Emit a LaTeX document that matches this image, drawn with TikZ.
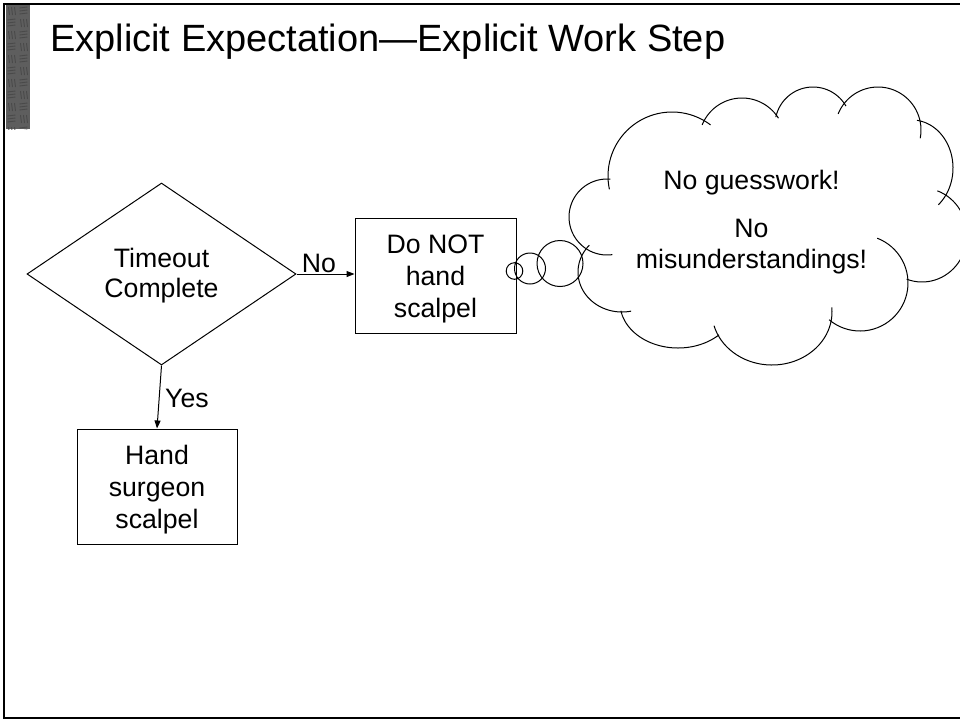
\documentclass[tikz,border=0pt]{standalone}
\usepackage{fontspec}
\setmainfont{Liberation Sans}
\usetikzlibrary{shapes.geometric,arrows.meta}
\definecolor{bandgray}{HTML}{5E5E5E}
\definecolor{banddark}{HTML}{4A4A4A}
\newcommand{\cloudbump}[6]{\draw[cloudline] plot[domain=#5:#6, samples=40, smooth, variable=\t] ({#1+#3*cos(\t)},{#2+#4*sin(\t)});}
\begin{document}
\begin{tikzpicture}[x=1pt,y=-1pt,
  body/.style={font=\fontsize{26.67}{32}\selectfont, align=center},
  flowbox/.style={draw=black, line width=1pt, rectangle, minimum width=161pt, minimum height=115pt, inner sep=0pt, body},
  decision/.style={draw=black, line width=1pt, diamond, minimum width=269pt, minimum height=182pt, inner sep=0pt, font=\fontsize{26.67}{30}\selectfont, align=center},
  conn/.style={draw=black, line width=1pt, -{Triangle[length=8pt,width=6pt]}},
  lbl/.style={font=\fontsize{26.67}{32}\selectfont, inner sep=0pt, anchor=base},
  cloudline/.style={draw=black, line width=1pt},
  bubble/.style={draw=black, line width=1pt},
]
\useasboundingbox (0,0) rectangle (960,721);
\fill[white] (0,0) rectangle (960,721);
% textured band
\fill[bandgray] (5.5,5) rectangle (30,129);
\begin{scope}
\clip (5.5,5) rectangle (30,129);
\foreach \i in {0,1,2}{
  \foreach \j in {0,...,10}{
    \pgfmathtruncatemacro{\pp}{mod(\i+\j,2)}
    \ifnum\pp=0
      \draw[banddark, line width=0.9pt] ({5.5+12*\i+3},{5+12*\j+2}) -- ++(1,8) ({5.5+12*\i+6},{5+12*\j+2}) -- ++(1,8) ({5.5+12*\i+9},{5+12*\j+2}) -- ++(1,8);
    \else
      \draw[banddark, line width=0.9pt] ({5.5+12*\i+2},{5+12*\j+3}) -- ++(8,-1) ({5.5+12*\i+2},{5+12*\j+6}) -- ++(8,-1) ({5.5+12*\i+2},{5+12*\j+9}) -- ++(8,-1);
    \fi
  }
}
\end{scope}
% frame
\draw[line width=2.2pt] (965,4) -- (4,4) -- (4,718) -- (965,718);
% title
\node[anchor=base west, inner sep=0pt, font=\fontsize{38}{45}\selectfont] (title) at (50,51) {Explicit Expectation—Explicit Work Step};
% flowchart
\node[decision] (dec) at (161.5,274) {\rule{0pt}{23pt}Timeout\\Complete};
\node[flowbox] (nobox) at (435.5,275.5) {\rule{0pt}{26pt}Do NOT\\hand\\scalpel};
\node[flowbox, minimum width=160pt] (yesbox) at (157,486.5) {\rule{0pt}{26pt}Hand\\surgeon\\scalpel};
\draw[conn] (dec.east) -- (dec.east -| nobox.west);
\draw[conn] (dec.south) -- (yesbox.north);
\node[lbl] (lno) at (319,272) {No};
\node[lbl] (lyes) at (187,407) {Yes};
% thought bubbles
\draw[bubble] (514.5,271) circle[radius=8.3];
\draw[bubble] (530,268.5) circle[radius=15.5];
\draw[bubble] (560,263.5) circle[radius=23];
% cloud
\cloudbump{607}{217}{38}{38}{82}{275}
\cloudbump{672}{176}{64}{64}{168}{307}
\cloudbump{742}{141}{43}{43}{202}{328}
\cloudbump{813}{125}{38}{38}{192}{330}
\cloudbump{878}{130}{43}{43}{202}{371}
\cloudbump{912}{168}{41}{48}{277}{410}
\cloudbump{922}{235}{45}{47}{290}{470}
\cloudbump{860}{283}{48}{48}{-69}{130}
\cloudbump{772}{312}{60}{53}{-5}{165}
\cloudbump{678}{303}{58}{45}{45}{170}
\cloudbump{622}{272}{44}{40}{78}{222}
% cloud text
\node[lbl] (c1) at (751.5,189) {No guesswork!};
\node[lbl] (c2) at (751.5,237) {No};
\node[lbl] (c3) at (751.5,268) {misunderstandings!};
\end{tikzpicture}
\end{document}
